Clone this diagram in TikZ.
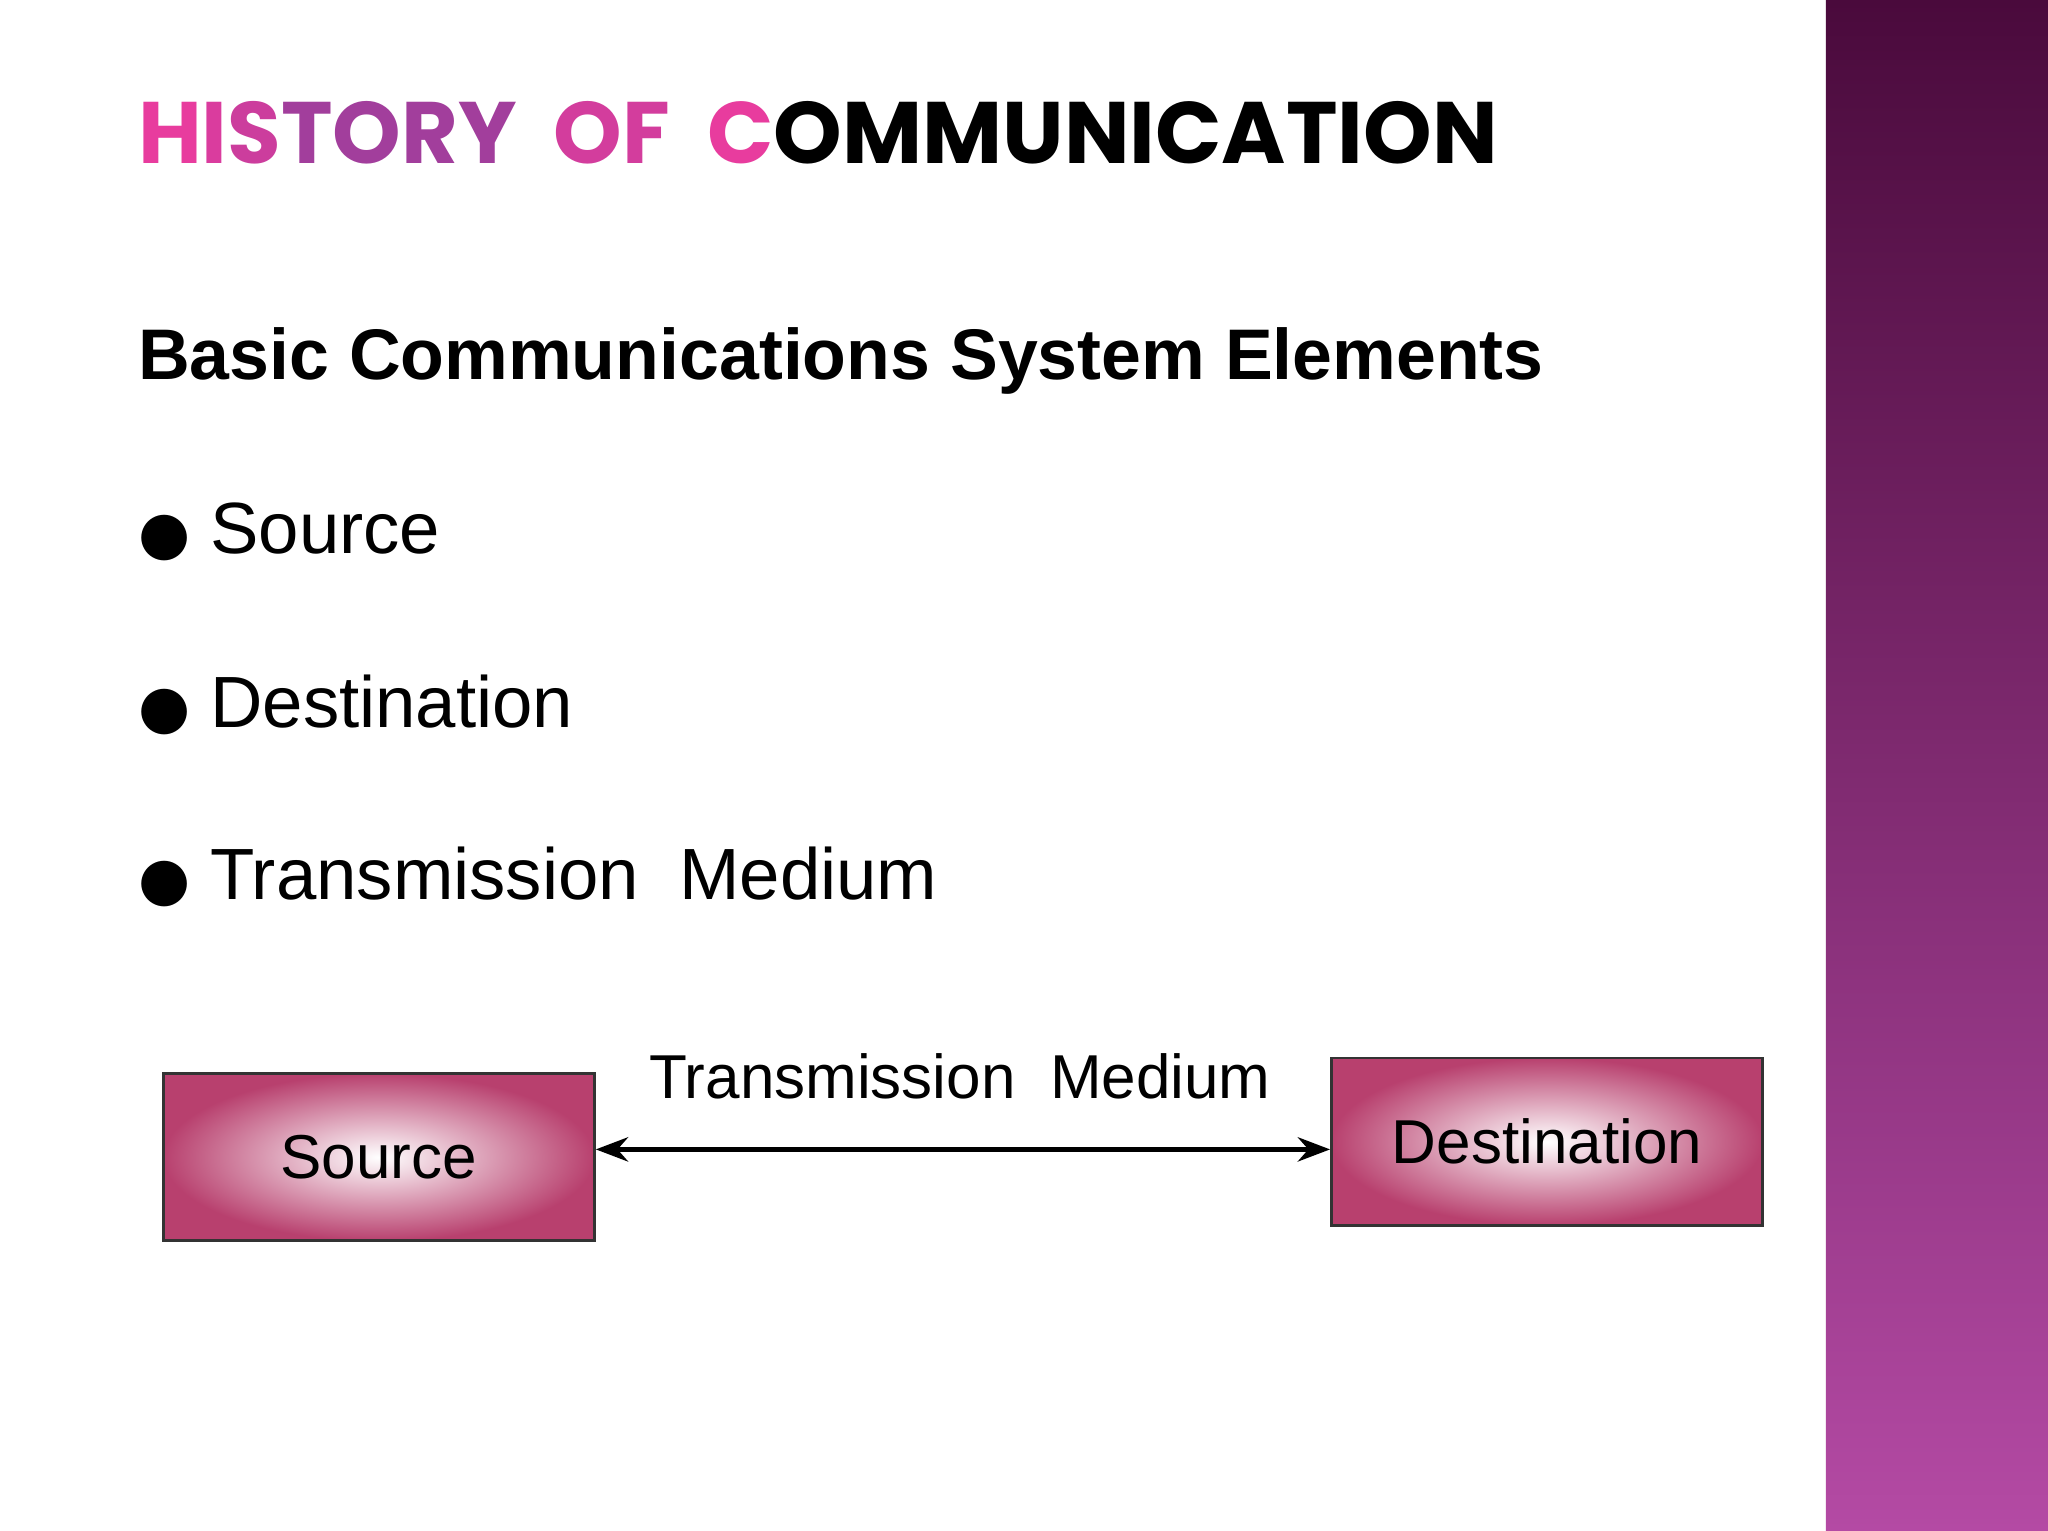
\documentclass[tikz,border=0pt]{standalone}
\usepackage{fontspec}
\setmainfont{Liberation Sans}
\newfontfamily\titlefont{Poppins}
\newfontfamily\symfont{DejaVu Sans}
\usetikzlibrary{arrows.meta}
\definecolor{tpink}{HTML}{E83C9E}
\definecolor{tpurple}{HTML}{A23E9C}
\definecolor{boxedge}{HTML}{B8406E}
\definecolor{bandtop}{HTML}{4A0A3C}
\definecolor{bandbot}{HTML}{B44AA4}
\tikzset{
  elbox/.style={draw=black!80, line width=0.6pt, minimum width=3.3cm, minimum height=1.28cm,
    inner color=white, outer color=boxedge, font=\fontsize{13.5}{16}\selectfont},
  bullet/.style={anchor=west, font=\fontsize{15.8}{19}\selectfont, inner sep=0pt}
}
\newcommand{\bul}{{\symfont\fontsize{13}{15}\selectfont ●}\ }
\begin{document}
\begin{tikzpicture}[x=0.01cm,y=-0.01cm]
\useasboundingbox (0,0) rectangle (1568,1172);
\fill[white] (0,0) rectangle (1568,1172);
\shade[top color=bandtop, bottom color=bandbot] (1398,0) rectangle (1568,1172);
\node[anchor=west, inner sep=0pt, font=\titlefont\bfseries\fontsize{19}{23}\selectfont] (title) at (105,102)
  {\textcolor{tpink}{H}\textcolor{tpink!80!tpurple}{I}\textcolor{tpink!60!tpurple}{S}\textcolor{tpurple}{TORY}\ \ \textcolor{tpink!70!tpurple}{OF}\ \ \textcolor{tpink}{C}\textcolor{black}{OMMUNICATION}};
\node[anchor=west, inner sep=0pt, font=\bfseries\fontsize{15.6}{19}\selectfont] (sub) at (105,276) {Basic Communications System Elements};
\node[bullet] (b1) at (105,407) {\bul Source};
\node[bullet] (b2) at (105,540) {\bul Destination};
\node[bullet] (b3) at (105,671) {\bul Transmission\ \ Medium};
\node[elbox] (src) at (290,886) {Source};
\node[elbox] (dst) at (1184.5,874) {Destination};
\coordinate (a1) at (src.east |- 0,880);
\coordinate (a2) at (dst.west |- 0,880);
\draw[line width=1.2pt, {Stealth[length=7pt]}-{Stealth[length=7pt]}] (a1) -- (a2);
\node[font=\fontsize{13.5}{16}\selectfont] (lbl) at (735,824) {Transmission\ \ Medium};
\end{tikzpicture}
\end{document}
